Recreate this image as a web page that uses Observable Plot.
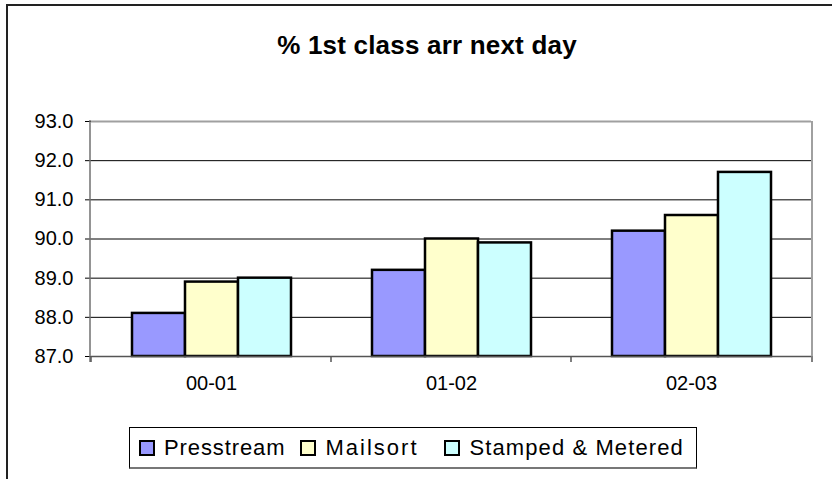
<!DOCTYPE html>
<html>
<head>
<meta charset="utf-8">
<script src="https://cdn.jsdelivr.net/npm/d3@7"></script>
<script src="https://cdn.jsdelivr.net/npm/@observablehq/plot@0.6"></script>
<style>
  html, body { margin: 0; padding: 0; background: #fff; }
  #chart { position: relative; width: 832px; height: 479px; overflow: hidden; font-family: Arial, "Liberation Sans", sans-serif; color: #000; }
  #outer { position: absolute; left: 6px; top: 4px; width: 900px; height: 600px; border-left: 2px solid #222; border-top: 2px solid #222; pointer-events: none; }
  #title { height: 95px; padding-left: 22px; box-sizing: border-box; text-align: center; font-weight: bold; font-size: 26px; line-height: 90px; letter-spacing: 0.2px; }
  #plot svg { display: block; }
  #legend { margin-left: 129px; margin-top: 17px; display: inline-flex; align-items: center; height: 42px; box-sizing: border-box; border: 1px solid #000; border-bottom: 2px solid #777; padding: 0 12px 0 9px; font-size: 22px; letter-spacing: 0.9px; }
  .item { display: flex; align-items: center; margin-right: 15px; }
  .item:last-child { margin-right: 0; }
  .item:nth-child(2) span { letter-spacing: 2px; min-width: 104px; }
  .item:nth-child(3) span { letter-spacing: 1.1px; }
  .sw { width: 12px; height: 12px; border: 2px solid #000; margin-right: 9px; }
</style>
</head>
<body>
<div id="chart">
  <div id="outer"></div>
  <div id="title">% 1st class arr next day</div>
  <div id="plot"></div>
  <div id="legend"></div>
</div>
<script>
const periods = ["00-01", "01-02", "02-03"];
const seriesNames = ["Presstream", "Mailsort", "Stamped & Metered"];
const presstream = [88.1, 89.2, 90.2];
const mailsort = [88.9, 90.0, 90.6];
const stampedMetered = [89.0, 89.9, 91.7];
const seriesColors = ["#9999FF", "#FFFFCC", "#CCFFFF"];
const yTicks = [87, 88, 89, 90, 91, 92, 93];
const gridValues = [88, 89, 90, 91, 92];

const seriesValues = [presstream, mailsort, stampedMetered];
const data = [];
periods.forEach((p, i) => seriesNames.forEach((s, j) => data.push({period: p, series: s, value: seriesValues[j][i]})));

const plot = Plot.plot({
  width: 832,
  height: 315,
  marginLeft: 90,
  marginRight: 20,
  marginTop: 26,
  marginBottom: 54,
  style: {fontFamily: "Arial, 'Liberation Sans', sans-serif", fontSize: "20px", color: "#000", background: "transparent"},
  facet: {data, x: "period"},
  fx: {domain: periods, padding: 0, tickSize: 0, tickPadding: 19, label: null, axis: "bottom"},
  x: {domain: seriesNames, axis: null, paddingInner: 0, paddingOuter: 0.75},
  y: {domain: [87, 93], ticks: yTicks, tickFormat: d => d.toFixed(1), tickSize: 6, tickPadding: 12, label: null},
  color: {domain: seriesNames, range: seriesColors},
  marks: [
    Plot.ruleY(gridValues, {stroke: "#000", strokeWidth: 1}),
    Plot.ruleY([93], {stroke: "#a0a0a0", strokeWidth: 2}),
    Plot.barY(data, {x: "series", y1: 87, y2: "value", fill: "series", stroke: "#000", strokeWidth: 2.5, inset: 0}),
    Plot.ruleY([87], {stroke: "#555", strokeWidth: 1.5})
  ]
});
document.getElementById("plot").appendChild(plot);

// plot-area border, axis line and category boundary ticks from the library's scales
const fx = plot.scale("fx"), y = plot.scale("y");
const x0 = fx.range[0], x1 = fx.range[1];
const yTop = y.apply(93), yBase = y.apply(87);
const svg = d3.select(plot);
const g = svg.append("g");
g.append("line").attr("x1", x1).attr("x2", x1).attr("y1", yTop).attr("y2", yBase).attr("stroke", "#a0a0a0").attr("stroke-width", 2);
g.append("line").attr("x1", x0).attr("x2", x0).attr("y1", yTop - 1).attr("y2", yBase + 6).attr("stroke", "#707070").attr("stroke-width", 1.5);
const bounds = periods.map(p => fx.apply(p)).concat([x1]);
g.selectAll(".bt").data(bounds).join("line").attr("x1", d => d).attr("x2", d => d).attr("y1", yBase).attr("y2", yBase + 6).attr("stroke", "#555").attr("stroke-width", 1.5);

// legend
const legend = d3.select("#legend");
seriesNames.forEach((s, i) => {
  const it = legend.append("div").attr("class", "item");
  it.append("div").attr("class", "sw").style("background", seriesColors[i]);
  it.append("span").text(s);
});
</script>
</body>
</html>
